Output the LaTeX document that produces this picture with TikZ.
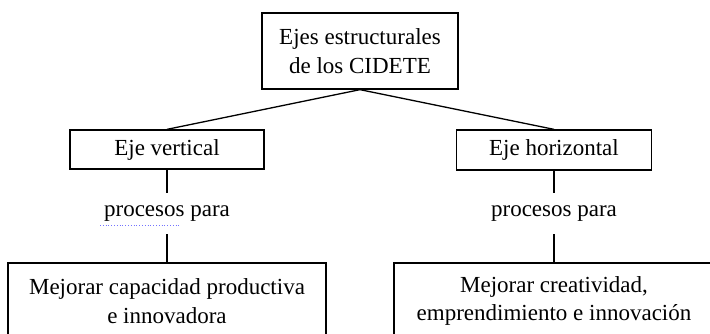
\documentclass[tikz,border=0pt]{standalone}
\usepackage{fontspec}
\setmainfont{Liberation Serif}
\begin{document}
\begin{tikzpicture}[x=1pt,y=-1pt,
  every node/.style={font=\fontsize{23}{28.5}\selectfont, inner sep=0pt, align=center},
  box/.style={draw, line width=1.3pt},
  link/.style={line width=1.3pt},
  label/.style={minimum height=41pt}]
\useasboundingbox (0,0) rectangle (710,333);
\fill[white] (0,0) rectangle (710,333);
\clip (0,0) rectangle (710,333);
\node[box, minimum width=196pt, minimum height=76pt] (top) at (360,51) {Ejes estructurales\\de los CIDETE};
\node[box, minimum width=194pt, minimum height=39pt] (left) at (167,149.5) {Eje vertical};
\node[box, minimum width=195pt, minimum height=40pt] (right) at (554,150) {Eje horizontal};
\node[label] (lp) at (167,213.5) {procesos para};
\node[label] (rp) at (554,213.5) {procesos para};
\node[box, minimum width=318pt, minimum height=76pt] (lb) at (167,301) {Mejorar capacidad productiva\\e innovadora};
\node[box, minimum width=320pt, minimum height=76pt] (rb) at (554,301) {Mejorar creatividad,\\emprendimiento e innovación};
\draw[link] (top.south) -- (left.north);
\draw[link] (top.south) -- (right.north);
\draw[link] (left.south) -- (lp.north);
\draw[link] (lp.south) -- (lb.north);
\draw[link] (right.south) -- (rp.north);
\draw[link] (rp.south) -- (rb.north);
\coordinate (u1) at (100,225);
\coordinate (u2) at (179,225);
\draw[blue!55, line width=0.8pt, dotted] (u1) -- (u2);
\end{tikzpicture}
\end{document}
